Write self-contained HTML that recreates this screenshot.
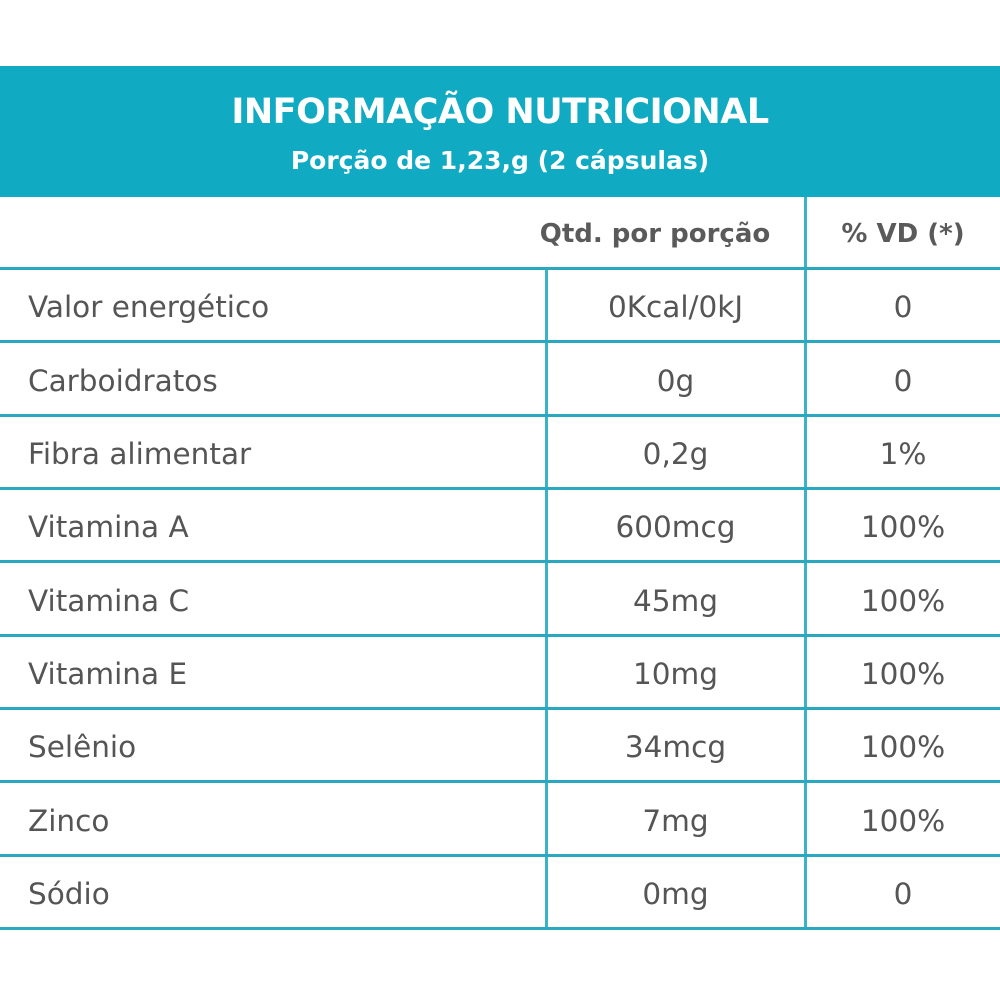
<!DOCTYPE html>
<html><head><style>
body{margin:0;width:1000px;height:1000px;background:#fff;position:relative;font-family:"DejaVu Sans","Liberation Sans",sans-serif;overflow:hidden}
.band{position:absolute;left:0;top:66px;width:1000px;height:131px;background:#11aac3;color:#fff;text-align:center;font-weight:bold}
.t1{position:absolute;top:26px;left:0;width:1000px;font-size:35px;letter-spacing:-0.5px}
.t2{position:absolute;top:80px;left:0;width:1000px;font-size:25px}
.h{position:absolute;background:#2aa8c0;height:3px;left:0;width:1000px}
.v{position:absolute;background:#3ab2c7;width:3px}
.tx{position:absolute;font-size:29.5px;color:#555;line-height:30px}
.c{text-align:center}
.b{font-weight:bold;color:#5a5a5a;font-size:26px}
</style></head><body>
<div class="band"><div class="t1">INFORMAÇÃO NUTRICIONAL</div><div class="t2">Porção de 1,23,g (2 cápsulas)</div></div>
<div class="v" style="left:804px;top:197px;height:733px"></div>
<div class="v" style="left:545px;top:268px;height:662px"></div>
<div class="h" style="top:267px"></div>
<div class="h" style="top:340px"></div>
<div class="h" style="top:414px"></div>
<div class="h" style="top:487px"></div>
<div class="h" style="top:560px"></div>
<div class="h" style="top:634px"></div>
<div class="h" style="top:707px"></div>
<div class="h" style="top:780px"></div>
<div class="h" style="top:854px"></div>
<div class="h" style="top:927px"></div>
<div class="tx b c" style="left:490px;width:330px;top:219px">Qtd. por porção</div>
<div class="tx b c" style="left:806px;width:194px;top:219px">% VD (*)</div>
<div class="tx" style="left:28px;top:292px">Valor energético</div><div class="tx c" style="left:547px;width:257px;top:292px">0Kcal/0kJ</div><div class="tx c" style="left:806px;width:194px;top:292px">0</div>
<div class="tx" style="left:28px;top:366px">Carboidratos</div><div class="tx c" style="left:547px;width:257px;top:366px">0g</div><div class="tx c" style="left:806px;width:194px;top:366px">0</div>
<div class="tx" style="left:28px;top:439px">Fibra alimentar</div><div class="tx c" style="left:547px;width:257px;top:439px">0,2g</div><div class="tx c" style="left:806px;width:194px;top:439px">1%</div>
<div class="tx" style="left:28px;top:512px">Vitamina A</div><div class="tx c" style="left:547px;width:257px;top:512px">600mcg</div><div class="tx c" style="left:806px;width:194px;top:512px">100%</div>
<div class="tx" style="left:28px;top:586px">Vitamina C</div><div class="tx c" style="left:547px;width:257px;top:586px">45mg</div><div class="tx c" style="left:806px;width:194px;top:586px">100%</div>
<div class="tx" style="left:28px;top:659px">Vitamina E</div><div class="tx c" style="left:547px;width:257px;top:659px">10mg</div><div class="tx c" style="left:806px;width:194px;top:659px">100%</div>
<div class="tx" style="left:28px;top:732px">Selênio</div><div class="tx c" style="left:547px;width:257px;top:732px">34mcg</div><div class="tx c" style="left:806px;width:194px;top:732px">100%</div>
<div class="tx" style="left:28px;top:806px">Zinco</div><div class="tx c" style="left:547px;width:257px;top:806px">7mg</div><div class="tx c" style="left:806px;width:194px;top:806px">100%</div>
<div class="tx" style="left:28px;top:879px">Sódio</div><div class="tx c" style="left:547px;width:257px;top:879px">0mg</div><div class="tx c" style="left:806px;width:194px;top:879px">0</div>
</body></html>
